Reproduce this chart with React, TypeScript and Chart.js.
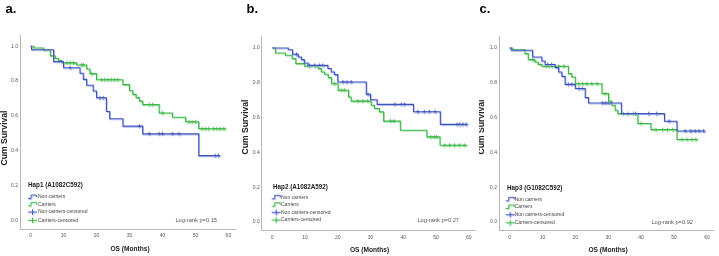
import React, { useEffect, useRef } from "react";
import { Chart, registerables } from "chart.js";

Chart.register(...registerables);

const FONT = 'Arial, "Liberation Sans", Helvetica, sans-serif';

// ---------- text ----------
const panelLetters = ["a.", "b.", "c."];
const hapTitles = ["Hap1 (A1082C592)", "Hap2 (A1082A592)", "Hap3 (G1082C592)"];
const logRankTexts = ["Log-rank p=0.15", "Log-rank p=0.27", "Log-rank p=0.92"];
const legendLabels = ["Non carriers", "Carriers", "Non carriers-censored", "Carriers-censored"];
const xAxisTitle = "OS (Months)";
const yAxisTitle = "Cum Survival";
const xTickValues = [0, 10, 20, 30, 40, 50, 60];
const yTickValues = [0, 0.2, 0.4, 0.6, 0.8, 1.0];

// ---------- panel a ----------
const aNonTime = [0, 0.3, 7, 10, 15, 16, 17, 19, 20, 23, 24, 28, 34, 51, 57.3];
const aNonSurv = [1.0, 0.98, 0.912, 0.877, 0.845, 0.81, 0.776, 0.743, 0.704, 0.625, 0.584, 0.541, 0.497, 0.372, 0.372];
const aNonCensored = [12, 21, 22, 33, 36, 39, 40, 43, 45, 56, 57];
const aCarTime = [0, 1, 4, 6, 7.5, 8.5, 9.5, 14, 17, 18, 20, 28, 30, 31, 32, 33, 34, 39, 43, 47, 51, 59.3];
const aCarSurv = [1.0, 0.99, 0.977, 0.945, 0.93, 0.918, 0.905, 0.893, 0.87, 0.843, 0.808, 0.78, 0.745, 0.724, 0.705, 0.685, 0.665, 0.617, 0.592, 0.566, 0.526, 0.526];
const aCarCensored = [11, 12, 13, 15.5, 16, 18.5, 21.5, 22.5, 23.5, 24.5, 25.5, 26.5, 36, 37, 40, 48, 49, 50, 52, 53, 54, 55.5, 56.5, 57.5, 58.6];

// ---------- panel b ----------
const bNonTime = [0, 4.9, 6.2, 7.9, 8.9, 9.8, 10.9, 17, 18, 19, 20, 28.7, 30, 32, 43.1, 51.3, 59.5];
const bNonSurv = [1.0, 0.99, 0.964, 0.948, 0.933, 0.914, 0.9, 0.882, 0.862, 0.847, 0.805, 0.734, 0.703, 0.676, 0.634, 0.561, 0.561];
const bNonCensored = [7.4, 11.4, 12.9, 14.4, 15.4, 21.6, 22.8, 24.1, 29.2, 37.4, 39.4, 40.4, 44.4, 46.4, 47.9, 49.7, 56.4, 57.2, 58.2, 59.2];
const bCarTime = [0, 1, 4, 6.1, 7.2, 9.9, 14, 15, 16, 17.1, 18.1, 20.1, 23.3, 24.1, 30.2, 31.2, 32.7, 34, 39.1, 47.2, 51.2, 59.5];
const bCarSurv = [1.0, 0.971, 0.958, 0.939, 0.91, 0.895, 0.882, 0.862, 0.849, 0.83, 0.795, 0.757, 0.718, 0.695, 0.671, 0.652, 0.633, 0.58, 0.527, 0.489, 0.441, 0.441];
const bCarCensored = [11.3, 13, 19, 21, 22, 26.1, 27.6, 29.1, 36.1, 37.1, 48.4, 49.4, 50.1, 52.6, 54.1, 55.6, 57.1, 58.6];

// ---------- panel c ----------
const cNonTime = [0, 0.5, 7, 9.8, 10.8, 13.9, 14.9, 15.9, 16.9, 20, 23, 24, 34, 47.1, 50.9, 59.3];
const cNonSurv = [1.0, 0.987, 0.948, 0.925, 0.905, 0.887, 0.862, 0.837, 0.791, 0.767, 0.715, 0.684, 0.623, 0.579, 0.523, 0.523];
const cNonCensored = [11.6, 12.8, 17.9, 18.9, 21.1, 22.1, 28.3, 29.3, 30.3, 38.3, 42.3, 44.7, 48.5, 53.4, 55.1, 56.4, 57.6, 59];
const cCarTime = [0, 1, 4.7, 5.7, 7.7, 8.7, 9.8, 17.9, 18.9, 20, 28.1, 30.1, 31.1, 32.1, 32.9, 39, 43, 50.9, 57.2];
const cCarSurv = [1.0, 0.99, 0.968, 0.933, 0.92, 0.906, 0.895, 0.853, 0.833, 0.795, 0.738, 0.695, 0.671, 0.642, 0.623, 0.566, 0.531, 0.474, 0.474];
const cCarCensored = [7, 11, 12, 13, 15, 16.5, 21, 22.2, 23.5, 25, 26.6, 29.1, 34.6, 36, 37.6, 40, 44.5, 46.5, 48, 49.6, 52.4, 53.9, 55.4, 56.6];

// ---------- styling ----------
const BLUE = "#3f53bc";
const BLUE_SHADOW = "rgba(160,172,226,0.8)";
const GREEN = "#3ab547";
const GREEN_SHADOW = "rgba(160,222,160,0.8)";
const AXIS = "#b8b8b8";
const X_MIN = -3.2;
const X_MAX = 62;
const Y_MIN = -0.05;
const Y_MAX = 1.065;

type PanelData = {
  nonT: number[]; nonS: number[]; nonC: number[];
  carT: number[]; carS: number[]; carC: number[];
};

const panelData: PanelData[] = [
  { nonT: aNonTime, nonS: aNonSurv, nonC: aNonCensored, carT: aCarTime, carS: aCarSurv, carC: aCarCensored },
  { nonT: bNonTime, nonS: bNonSurv, nonC: bNonCensored, carT: bCarTime, carS: bCarSurv, carC: bCarCensored },
  { nonT: cNonTime, nonS: cNonSurv, nonC: cNonCensored, carT: cCarTime, carS: cCarSurv, carC: cCarCensored },
];

// layout (panel-local pixel positions)
const layouts = [
  {
    left: 0, width: 240,
    area: { left: 20, top: 35, right: 235, bottom: 229 },
    letter: { x: 5.5, y: 13 },
    yTitle: { x: 4.5, y: 138 },
    xTitle: { x: 130, y: 249 },
    hap: { x: 28, y: 185 },
    rows: [197, 204.3, 212, 220.3], iconX: 28, textX: 38,
    logRank: { x: 217, y: 220.5 },
  },
  {
    left: 240, width: 239,
    area: { left: 21.7, top: 36.7, right: 235.4, bottom: 230.7 },
    letter: { x: 6.5, y: 12.5 },
    yTitle: { x: 5.3, y: 127 },
    xTitle: { x: 129.5, y: 249.7 },
    hap: { x: 33, y: 187 },
    rows: [197.3, 204.7, 212.3, 220], iconX: 31.7, textX: 41,
    logRank: { x: 219, y: 220.7 },
  },
  {
    left: 479, width: 240,
    area: { left: 20, top: 36.7, right: 234.5, bottom: 230.7 },
    letter: { x: 0.5, y: 12.5 },
    yTitle: { x: 2.8, y: 127 },
    xTitle: { x: 129, y: 250 },
    hap: { x: 28, y: 188.5 },
    rows: [199.3, 207, 214.7, 222.7], iconX: 26.7, textX: 35.7,
    logRank: { x: 214, y: 222 },
  },
];

function levelAt(times: number[], surv: number[], t: number) {
  let v = surv[0];
  for (let i = 0; i < times.length; i++) if (times[i] <= t) v = surv[i];
  return v;
}

const shadowPlugin = {
  id: "kmShadow",
  beforeDatasetDraw(chart: any, args: any) {
    const ds = chart.data.datasets[args.index];
    const ctx = chart.ctx;
    ctx.save();
    ctx.shadowColor = ds.shadowColor || "transparent";
    ctx.shadowOffsetX = 0.8;
    ctx.shadowOffsetY = 1;
    ctx.shadowBlur = 0.6;
  },
  afterDatasetDraw(chart: any) {
    chart.ctx.restore();
  },
};

function makeDecorPlugin(idx: number) {
  const L = layouts[idx];
  return {
    id: "decor" + idx,
    afterDraw(chart: any) {
      const ctx: CanvasRenderingContext2D = chart.ctx;
      ctx.save();
      // panel letter
      ctx.fillStyle = "#000";
      ctx.font = `bold 13px ${FONT}`;
      ctx.textAlign = "left";
      ctx.textBaseline = "alphabetic";
      ctx.fillText(panelLetters[idx], L.letter.x, L.letter.y);
      // axis titles
      ctx.fillStyle = "#222";
      ctx.font = `bold 6.6px ${FONT}`;
      ctx.textAlign = "center";
      ctx.textBaseline = "middle";
      ctx.fillText(xAxisTitle, L.xTitle.x, L.xTitle.y);
      ctx.save();
      ctx.translate(L.yTitle.x, L.yTitle.y);
      ctx.rotate(-Math.PI / 2);
      ctx.font = `bold 8.6px ${FONT}`;
      ctx.fillText(yAxisTitle, 0, 0);
      ctx.restore();
      // legend title
      ctx.textAlign = "left";
      ctx.font = `bold 6.3px ${FONT}`;
      ctx.fillStyle = "#222";
      ctx.fillText(hapTitles[idx], L.hap.x, L.hap.y);
      // legend rows
      const colors = [BLUE, GREEN, BLUE, GREEN];
      const shadows = [BLUE_SHADOW, GREEN_SHADOW, BLUE_SHADOW, GREEN_SHADOW];
      for (let i = 0; i < 4; i++) {
        const y = L.rows[i];
        const x = L.iconX;
        ctx.save();
        ctx.shadowColor = shadows[i];
        ctx.shadowOffsetX = 0.8;
        ctx.shadowOffsetY = 1;
        ctx.shadowBlur = 0.6;
        ctx.strokeStyle = colors[i];
        ctx.lineWidth = 0.9;
        ctx.beginPath();
        if (i < 2) {
          ctx.moveTo(x, y + 1.5);
          ctx.lineTo(x + 3, y + 1.5);
          ctx.lineTo(x + 3, y - 2);
          ctx.lineTo(x + 8.5, y - 2);
          ctx.lineTo(x + 8.5, y);
        } else {
          ctx.moveTo(x, y);
          ctx.lineTo(x + 9, y);
          ctx.moveTo(x + 4.5, y - 2.8);
          ctx.lineTo(x + 4.5, y + 2.8);
        }
        ctx.stroke();
        ctx.restore();
        ctx.fillStyle = "#444";
        ctx.font = `5px ${FONT}`;
        ctx.fillText(legendLabels[i], L.textX, y);
      }
      // log-rank
      ctx.textAlign = "right";
      ctx.fillStyle = "#555";
      ctx.font = `5.7px ${FONT}`;
      ctx.fillText(logRankTexts[idx], L.logRank.x, L.logRank.y);
      ctx.restore();
    },
  };
}

function Panel({ idx }: { idx: number }) {
  const ref = useRef<HTMLCanvasElement>(null);
  useEffect(() => {
    const L = layouts[idx];
    const d = panelData[idx];
    const H = 256;
    const pts = (t: number[], s: number[]) => t.map((x, i) => ({ x, y: s[i] }));
    const cens = (c: number[], t: number[], s: number[]) => c.map((x) => ({ x, y: levelAt(t, s, x) }));
    const lineDs = (label: string, data: any[], color: string, shadow: string) => ({
      type: "line" as const,
      label,
      data,
      stepped: "before" as const,
      borderColor: color,
      borderWidth: 1.1,
      pointRadius: 0,
      fill: false,
      tension: 0,
      shadowColor: shadow,
    });
    const censDs = (label: string, data: any[], color: string, shadow: string) => ({
      type: "scatter" as const,
      label,
      data,
      showLine: false,
      pointStyle: "cross" as const,
      pointRadius: 2,
      pointBorderWidth: 0.8,
      borderColor: color,
      backgroundColor: color,
      pointHoverRadius: 0,
      shadowColor: shadow,
    });
    const chart = new Chart(ref.current as HTMLCanvasElement, {
      type: "line",
      data: {
        datasets: [
          lineDs(legendLabels[0], pts(d.nonT, d.nonS), BLUE, BLUE_SHADOW),
          lineDs(legendLabels[1], pts(d.carT, d.carS), GREEN, GREEN_SHADOW),
          censDs(legendLabels[2], cens(d.nonC, d.nonT, d.nonS), BLUE, BLUE_SHADOW),
          censDs(legendLabels[3], cens(d.carC, d.carT, d.carS), GREEN, GREEN_SHADOW),
        ] as any,
      },
      options: {
        animation: false,
        responsive: false,
        devicePixelRatio: 1,
        events: [],
        layout: { padding: { left: 0, top: L.area.top, right: L.width - L.area.right, bottom: 0 } },
        plugins: { legend: { display: false }, tooltip: { enabled: false } },
        scales: {
          x: {
            type: "linear",
            min: X_MIN,
            max: X_MAX,
            afterBuildTicks: (s: any) => {
              s.ticks = xTickValues.map((v) => ({ value: v }));
            },
            afterFit: (s: any) => {
              s.height = H - L.area.bottom;
            },
            grid: { display: false, drawTicks: false, tickLength: 0 },
            border: { display: true, color: AXIS, width: 1 },
            ticks: {
              autoSkip: false,
              maxRotation: 0,
              padding: 3.5,
              color: "#555",
              font: { size: 5, family: FONT },
              callback: (v: any) => String(v),
            },
          },
          y: {
            type: "linear",
            min: Y_MIN,
            max: Y_MAX,
            afterBuildTicks: (s: any) => {
              s.ticks = yTickValues.map((v) => ({ value: v }));
            },
            afterFit: (s: any) => {
              s.width = L.area.left;
            },
            grid: { display: false, drawTicks: false, tickLength: 0 },
            border: { display: true, color: AXIS, width: 1 },
            ticks: {
              autoSkip: false,
              padding: 2,
              color: "#555",
              font: { size: 5, family: FONT },
              callback: (v: any) => Number(v).toFixed(1),
            },
          },
        },
      } as any,
      plugins: [shadowPlugin, makeDecorPlugin(idx)],
    });
    return () => chart.destroy();
  }, [idx]);
  const L = layouts[idx];
  return (
    <div style={{ position: "absolute", left: L.left, top: 0, width: L.width, height: 256 }}>
      <canvas ref={ref} width={L.width} height={256} style={{ display: "block", width: L.width, height: 256 }} />
    </div>
  );
}

export default function App() {
  return (
    <div style={{ position: "absolute", left: 0, top: 0, width: 719, height: 256, background: "#fff", overflow: "hidden" }}>
      <Panel idx={0} />
      <Panel idx={1} />
      <Panel idx={2} />
    </div>
  );
}
